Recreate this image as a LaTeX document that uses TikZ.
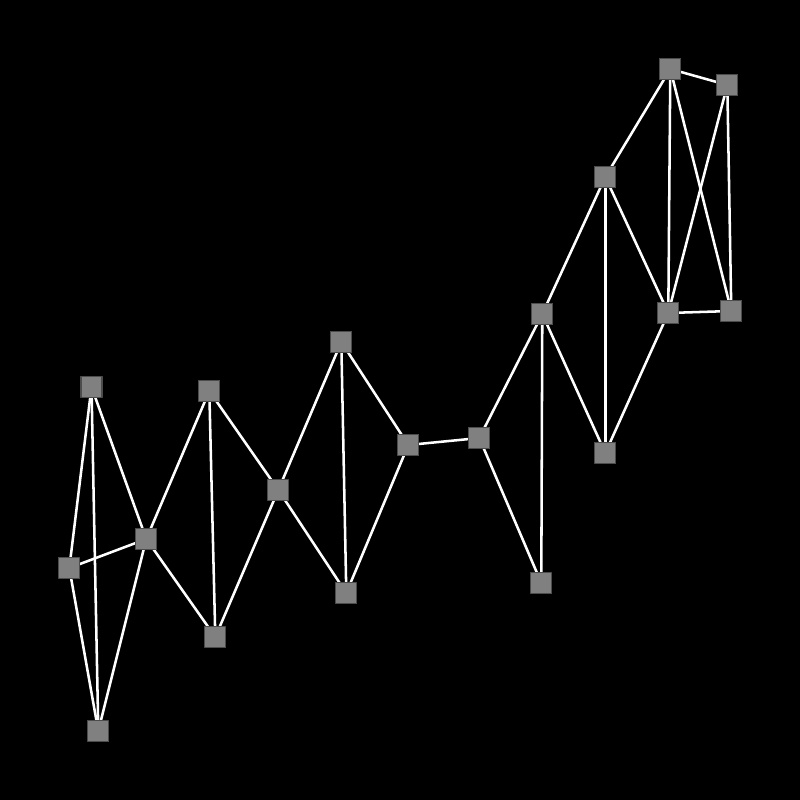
\documentclass[tikz,border=0pt]{standalone}
\usetikzlibrary{backgrounds}
\definecolor{NetPaper}{gray}{0}
\definecolor{NetVertex}{gray}{0.5}
\definecolor{NetRim}{gray}{0.3}
\definecolor{NetLink}{gray}{1}
\tikzset{
    net/diagram/.style={
        x=0.01cm, y=-0.01cm,
        line cap=round,
        line join=round
    },
    net/vertex/.style={
        rectangle, fill=NetVertex, draw=NetRim, line width=0.3pt,
        minimum size=0.21cm, inner sep=0pt
    },
    net/link/.style={draw=NetLink, line width=0.72pt}
}

\begin{document}
\begin{tikzpicture}[net/diagram]
    \useasboundingbox (0,0) rectangle (800,800);

    % Vertices, in pixel coordinates of the layout.
    \node[net/vertex] (a) at (91.5,387)  {};
    \node[net/vertex] (b) at (69.3,568)  {};
    \node[net/vertex] (c) at (98.3,731)  {};
    \node[net/vertex] (d) at (146.3,539) {};
    \node[net/vertex] (e) at (209.3,391) {};
    \node[net/vertex] (f) at (215.3,637) {};
    \node[net/vertex] (g) at (278.3,490) {};
    \node[net/vertex] (h) at (341.3,342) {};
    \node[net/vertex] (i) at (346.3,593) {};
    \node[net/vertex] (j) at (408.3,445) {};
    \node[net/vertex] (k) at (479.3,438) {};
    \node[net/vertex] (l) at (542.3,314) {};
    \node[net/vertex] (m) at (541.3,583) {};
    \node[net/vertex] (n) at (605.3,177) {};
    \node[net/vertex] (o) at (605.3,453) {};
    \node[net/vertex] (p) at (668.3,313) {};
    \node[net/vertex] (q) at (670.3,69)  {};
    \node[net/vertex] (r) at (727.3,85)  {};
    \node[net/vertex] (s) at (731.3,311) {};

    % Paper and links go behind the vertices.
    \begin{scope}[on background layer]
        \fill[NetPaper] (0,0) rectangle (800,800);
        \foreach \u/\v in {a/b, a/c, a/d, b/d, b/c, d/c,
                           d/e, d/f, e/f, e/g, f/g,
                           g/h, g/i, h/i, h/j, i/j,
                           j/k,
                           k/l, k/m, l/m, l/n, l/o, n/o,
                           n/q, n/p, o/p,
                           p/q, p/r, p/s, q/r, q/s, r/s}
            \draw[net/link] (\u.center) -- (\v.center);
    \end{scope}
\end{tikzpicture}
\end{document}
